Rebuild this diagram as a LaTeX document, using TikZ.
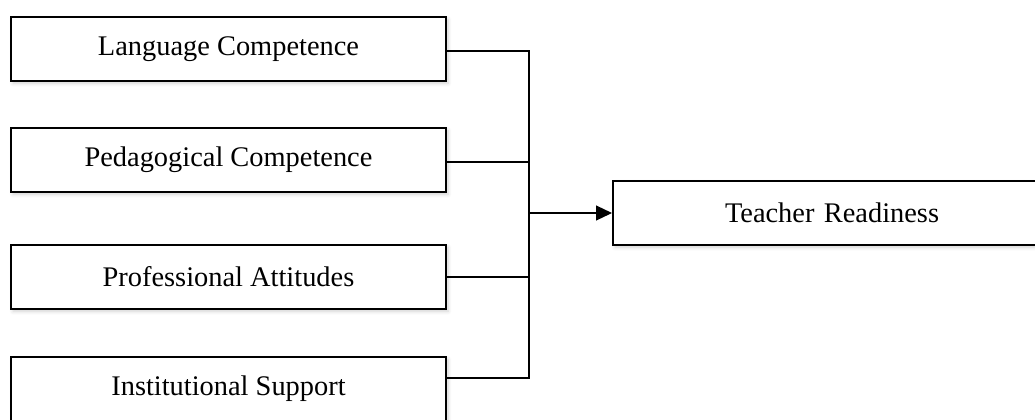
\documentclass[tikz,border=0pt]{standalone}
\usepackage{fontspec}
\setmainfont{Liberation Serif}
\usepackage{tikz}
\usetikzlibrary{arrows.meta,positioning,shadows.blur}
\tikzset{
  factor/.style={rectangle, draw=black, line width=1pt, fill=white,
                 minimum width=217.5pt, minimum height=32pt,
                 text centered, font=\fontsize{14.2}{17}\selectfont,
                 blur shadow={shadow xshift=1pt, shadow yshift=-1.2pt,
                              shadow opacity=18, shadow blur steps=6}},
  outbox/.style={factor, minimum width=230pt, text width=118pt,
                 inner xsep=53.5pt, align=left},
  link/.style={draw=black, line width=0.6pt},
  arr/.style={-{Triangle[length=8pt,width=7.5pt]}, link},
}

\begin{document}
\begin{tikzpicture}[x=0.5pt, y=-0.5pt]
  \useasboundingbox (0,0) rectangle (1035,419);
  % influencing factors
  \node[factor] (lang)  at (228.5,49)  {Language Competence};
  \node[factor] (ped)   at (228.5,160) {Pedagogical Competence};
  \node[factor] (att)   at (228.5,277) {Professional Attitudes};
  \node[factor] (inst)  at (228.5,389) {Institutional Support};
  % outcome
  \node[outbox, anchor=west] (ready) at (612,213) {Teacher Readiness};
  % bracket connector
  \coordinate (j) at (529,213);
  \draw[link] ([yshift=-1pt]lang.east) -| (j);
  \draw[link] ([yshift=5.5pt]inst.east) -| (j);
  \draw[link] ([yshift=-1pt]ped.east) -- ([yshift=-1pt]ped.east -| j);
  \draw[link] (att.east) -- (att.east -| j);
  \draw[arr] (j) -- (ready.west);
\end{tikzpicture}
\end{document}
